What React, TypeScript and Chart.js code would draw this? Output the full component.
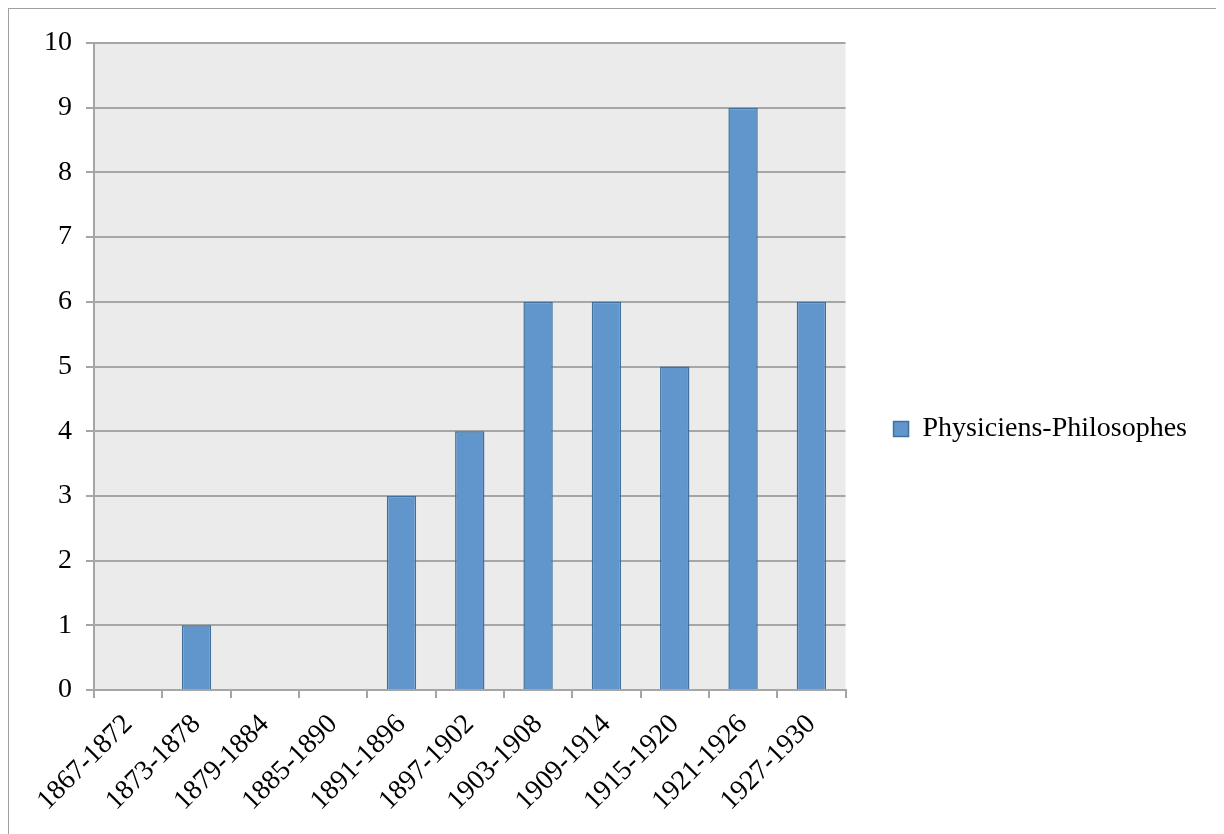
import React, { useEffect, useRef } from "react";
import { Chart, registerables } from "chart.js";

Chart.register(...registerables);

const categories = [
  "1867-1872",
  "1873-1878",
  "1879-1884",
  "1885-1890",
  "1891-1896",
  "1897-1902",
  "1903-1908",
  "1909-1914",
  "1915-1920",
  "1921-1926",
  "1927-1930",
];
const seriesName = "Physiciens-Philosophes";
const seriesValues = [0, 1, 0, 0, 3, 4, 6, 6, 5, 9, 6];
const yTicks = [0, 1, 2, 3, 4, 5, 6, 7, 8, 9, 10];

const FONT = "'Liberation Serif', 'Times New Roman', serif";
const GRID = "#a6a6a6";

const plotBg = {
  id: "plotBg",
  beforeDraw(chart: any) {
    const { ctx, chartArea } = chart;
    ctx.save();
    ctx.fillStyle = "#ebebeb";
    ctx.fillRect(chartArea.left, chartArea.top, chartArea.right - chartArea.left, chartArea.bottom - chartArea.top);
    ctx.restore();
  },
};

export default function App() {
  const ref = useRef<HTMLCanvasElement | null>(null);
  useEffect(() => {
    if (!ref.current) return;
    const chart = new Chart(ref.current, {
      type: "bar",
      data: {
        labels: categories,
        datasets: [
          {
            label: seriesName,
            data: seriesValues,
            backgroundColor: "#6096cb",
            borderColor: "#41709f",
            borderWidth: 1.5,
            categoryPercentage: 1,
            barPercentage: 0.43,
          },
        ],
      },
      options: {
        responsive: false,
        animation: false,
        layout: { padding: { top: 34, left: 0, right: 19, bottom: 0 } },
        plugins: {
          tooltip: { enabled: false },
          legend: {
            position: "right",
            maxWidth: 420,
            labels: {
              color: "#000",
              font: { family: FONT, size: 28 },
              boxWidth: 15,
              boxHeight: 15,
              padding: 48,
            },
          },
        },
        scales: {
          x: {
            afterFit(scale: any) {
              scale.height = 125;
            },
            grid: {
              display: true,
              offset: true,
              drawOnChartArea: false,
              drawTicks: true,
              tickLength: 8,
              color: GRID,
              lineWidth: 2,
            },
            border: { color: GRID, width: 2 },
            ticks: {
              color: "#000",
              font: { family: FONT, size: 28 },
              maxRotation: 45,
              minRotation: 45,
              autoSkip: false,
              padding: 10,
            },
          },
          y: {
            min: 0,
            max: 10,
            afterFit(scale: any) {
              scale.width = 85;
            },
            afterBuildTicks(scale: any) {
              scale.ticks = yTicks.map((v) => ({ value: v }));
            },
            grid: {
              color: GRID,
              lineWidth: 2,
              tickLength: 8,
            },
            border: { color: GRID, width: 2 },
            ticks: {
              color: "#000",
              font: { family: FONT, size: 28 },
              padding: 14,
            },
          },
        },
      },
      plugins: [plotBg],
    });
    return () => chart.destroy();
  }, []);
  return (
    <div style={{ width: 1207, height: 830, border: "1px solid #a0a0a0", background: "#fff" }}>
      <canvas ref={ref} width={1207} height={806} style={{ display: "block" }} />
    </div>
  );
}
